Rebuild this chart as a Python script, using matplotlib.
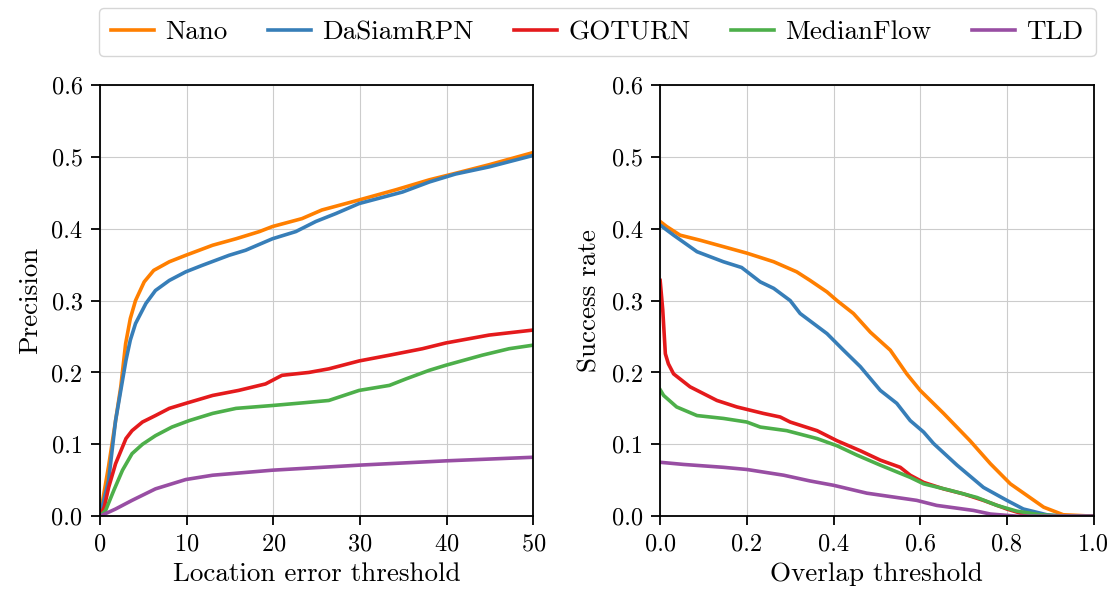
import matplotlib
matplotlib.use("Agg")
import matplotlib.pyplot as plt

plt.rcParams['font.family'] = ['cmr10', 'DejaVu Serif']
plt.rcParams['mathtext.fontset'] = 'cm'
plt.rcParams['axes.unicode_minus'] = False
plt.rcParams['axes.formatter.use_mathtext'] = True

names = ['Nano', 'DaSiamRPN', 'GOTURN', 'MedianFlow', 'TLD']
colors = ['#ff7f00', '#377eb8', '#e41a1c', '#4daf4a', '#984ea3']

# precision curves (location error threshold, precision)
nano_px = [0, 1.0, 2.4, 2.96, 3.5, 4.1, 5.1, 6.2, 8.0, 9.9, 13.0, 15.7, 18.4, 19.9, 23.3, 25.6, 29.9, 34.1, 38.0, 41.0, 44.9, 50]
nano_py = [0, 0.07, 0.18, 0.24, 0.275, 0.30, 0.326, 0.342, 0.354, 0.363, 0.377, 0.386, 0.396, 0.403, 0.414, 0.426, 0.44, 0.454, 0.468, 0.477, 0.489, 0.506]
dasiam_px = [0, 1.0, 1.8, 3.0, 3.5, 4.1, 5.3, 6.4, 8.0, 9.9, 11.8, 14.9, 16.8, 19.9, 22.6, 24.9, 27.2, 29.9, 34.9, 38.0, 41.0, 44.9, 50]
dasiam_py = [0, 0.05, 0.133, 0.217, 0.245, 0.268, 0.296, 0.314, 0.328, 0.34, 0.349, 0.363, 0.37, 0.386, 0.396, 0.41, 0.421, 0.435, 0.451, 0.465, 0.476, 0.486, 0.502]
goturn_px = [0, 0.5, 1.0, 1.8, 3.0, 3.7, 4.9, 6.4, 8.0, 9.9, 13.0, 16.0, 19.1, 21.0, 24.1, 26.4, 29.9, 33.4, 37.2, 39.9, 44.9, 50]
goturn_py = [0, 0.013, 0.04, 0.073, 0.108, 0.119, 0.131, 0.14, 0.15, 0.157, 0.168, 0.175, 0.184, 0.196, 0.2, 0.205, 0.216, 0.224, 0.233, 0.241, 0.252, 0.259]
median_px = [0, 0.65, 1.6, 2.6, 3.7, 4.9, 6.4, 8.3, 10.3, 13.0, 15.7, 19.9, 23.7, 26.4, 29.9, 33.4, 35.3, 38.0, 39.9, 44.1, 47.2, 50]
median_py = [0, 0.008, 0.036, 0.064, 0.087, 0.10, 0.112, 0.124, 0.133, 0.143, 0.15, 0.154, 0.158, 0.161, 0.175, 0.182, 0.191, 0.203, 0.21, 0.224, 0.233, 0.238]
tld_px = [0, 1.8, 3.7, 6.4, 9.9, 13.0, 19.9, 29.9, 39.9, 50]
tld_py = [0, 0.01, 0.022, 0.038, 0.051, 0.057, 0.064, 0.071, 0.077, 0.082]

# success curves (overlap threshold, success rate)
nano_sx = [0, 0.015, 0.046, 0.092, 0.146, 0.2, 0.262, 0.315, 0.346, 0.385, 0.408, 0.446, 0.485, 0.531, 0.569, 0.6, 0.654, 0.715, 0.762, 0.808, 0.846, 0.885, 0.93, 1.0]
nano_sy = [0.41, 0.403, 0.391, 0.384, 0.375, 0.366, 0.354, 0.34, 0.328, 0.312, 0.30, 0.282, 0.256, 0.231, 0.198, 0.175, 0.143, 0.105, 0.073, 0.045, 0.029, 0.0125, 0.002, 0]
dasiam_sx = [0, 0.031, 0.085, 0.146, 0.188, 0.231, 0.262, 0.3, 0.323, 0.385, 0.423, 0.462, 0.508, 0.546, 0.577, 0.608, 0.631, 0.685, 0.746, 0.8, 0.838, 0.892, 0.93, 1.0]
dasiam_sy = [0.405, 0.391, 0.368, 0.354, 0.346, 0.326, 0.317, 0.30, 0.282, 0.254, 0.231, 0.208, 0.175, 0.157, 0.133, 0.117, 0.101, 0.071, 0.04, 0.022, 0.01, 0.002, 0, 0]
goturn_sx = [0, 0.006, 0.012, 0.019, 0.031, 0.069, 0.131, 0.177, 0.238, 0.277, 0.3, 0.362, 0.408, 0.462, 0.508, 0.554, 0.577, 0.608, 0.654, 0.7, 0.746, 0.8, 0.838, 0.9, 1.0]
goturn_sy = [0.328, 0.287, 0.226, 0.212, 0.198, 0.18, 0.161, 0.152, 0.143, 0.138, 0.131, 0.119, 0.105, 0.091, 0.078, 0.068, 0.057, 0.047, 0.038, 0.031, 0.022, 0.01, 0.003, 0, 0]
median_sx = [0, 0.008, 0.038, 0.085, 0.146, 0.2, 0.231, 0.292, 0.362, 0.408, 0.454, 0.508, 0.577, 0.608, 0.669, 0.731, 0.777, 0.823, 0.877, 0.93, 1.0]
median_sy = [0.176, 0.168, 0.152, 0.14, 0.136, 0.131, 0.124, 0.119, 0.108, 0.098, 0.085, 0.071, 0.054, 0.045, 0.036, 0.026, 0.015, 0.007, 0.002, 0, 0]
tld_sx = [0, 0.054, 0.146, 0.2, 0.285, 0.346, 0.4, 0.477, 0.592, 0.638, 0.723, 0.762, 0.823, 1.0]
tld_sy = [0.075, 0.072, 0.068, 0.065, 0.057, 0.049, 0.043, 0.032, 0.022, 0.015, 0.008, 0.003, 0, 0]

prec = [(nano_px, nano_py), (dasiam_px, dasiam_py), (goturn_px, goturn_py),
        (median_px, median_py), (tld_px, tld_py)]
succ = [(nano_sx, nano_sy), (dasiam_sx, dasiam_sy), (goturn_sx, goturn_sy),
        (median_sx, median_sy), (tld_sx, tld_sy)]

fig = plt.figure(figsize=(11.17, 5.94), dpi=100)
ax1 = fig.add_axes([0.0895, 0.131, 0.388, 0.726])
ax2 = fig.add_axes([0.591, 0.131, 0.388, 0.726])

for (x, y), c, n in zip(prec, colors, names):
    ax1.plot(x, y, color=c, lw=2.6, label=n)
for (x, y), c in zip(succ, colors):
    ax2.plot(x, y, color=c, lw=2.6)

ax1.set_xlim(0, 50)
ax1.set_xticks([0, 10, 20, 30, 40, 50])
ax1.set_xlabel('Location error threshold', fontsize=19.5, labelpad=5)
ax1.set_ylabel('Precision', fontsize=19.5, labelpad=7)
ax2.set_xlim(0, 1)
ax2.set_xticks([0, 0.2, 0.4, 0.6, 0.8, 1.0])
ax2.set_xticklabels(['0.0', '0.2', '0.4', '0.6', '0.8', '1.0'])
ax2.set_xlabel('Overlap threshold', fontsize=19.5, labelpad=5)
ax2.set_ylabel('Success rate', fontsize=19.5, labelpad=7)

for ax in (ax1, ax2):
    ax.set_ylim(0, 0.6)
    ax.set_yticks([0, 0.1, 0.2, 0.3, 0.4, 0.5, 0.6])
    ax.set_yticklabels(['0.0', '0.1', '0.2', '0.3', '0.4', '0.5', '0.6'])
    ax.grid(True, color='#cccccc', lw=0.8)
    ax.tick_params(labelsize=17.5, width=1.3, length=6.5, pad=6)
    for s in ax.spines.values():
        s.set_linewidth(1.3)

fig.legend(loc='upper center', bbox_to_anchor=(0.5345, 0.9865), ncol=5, fontsize=19.5,
           frameon=True, edgecolor='#cccccc', handlelength=1.6, columnspacing=1.5,
           handletextpad=0.4, fancybox=True, borderpad=0.45, borderaxespad=0)

fig.savefig('out.png', dpi=100)
